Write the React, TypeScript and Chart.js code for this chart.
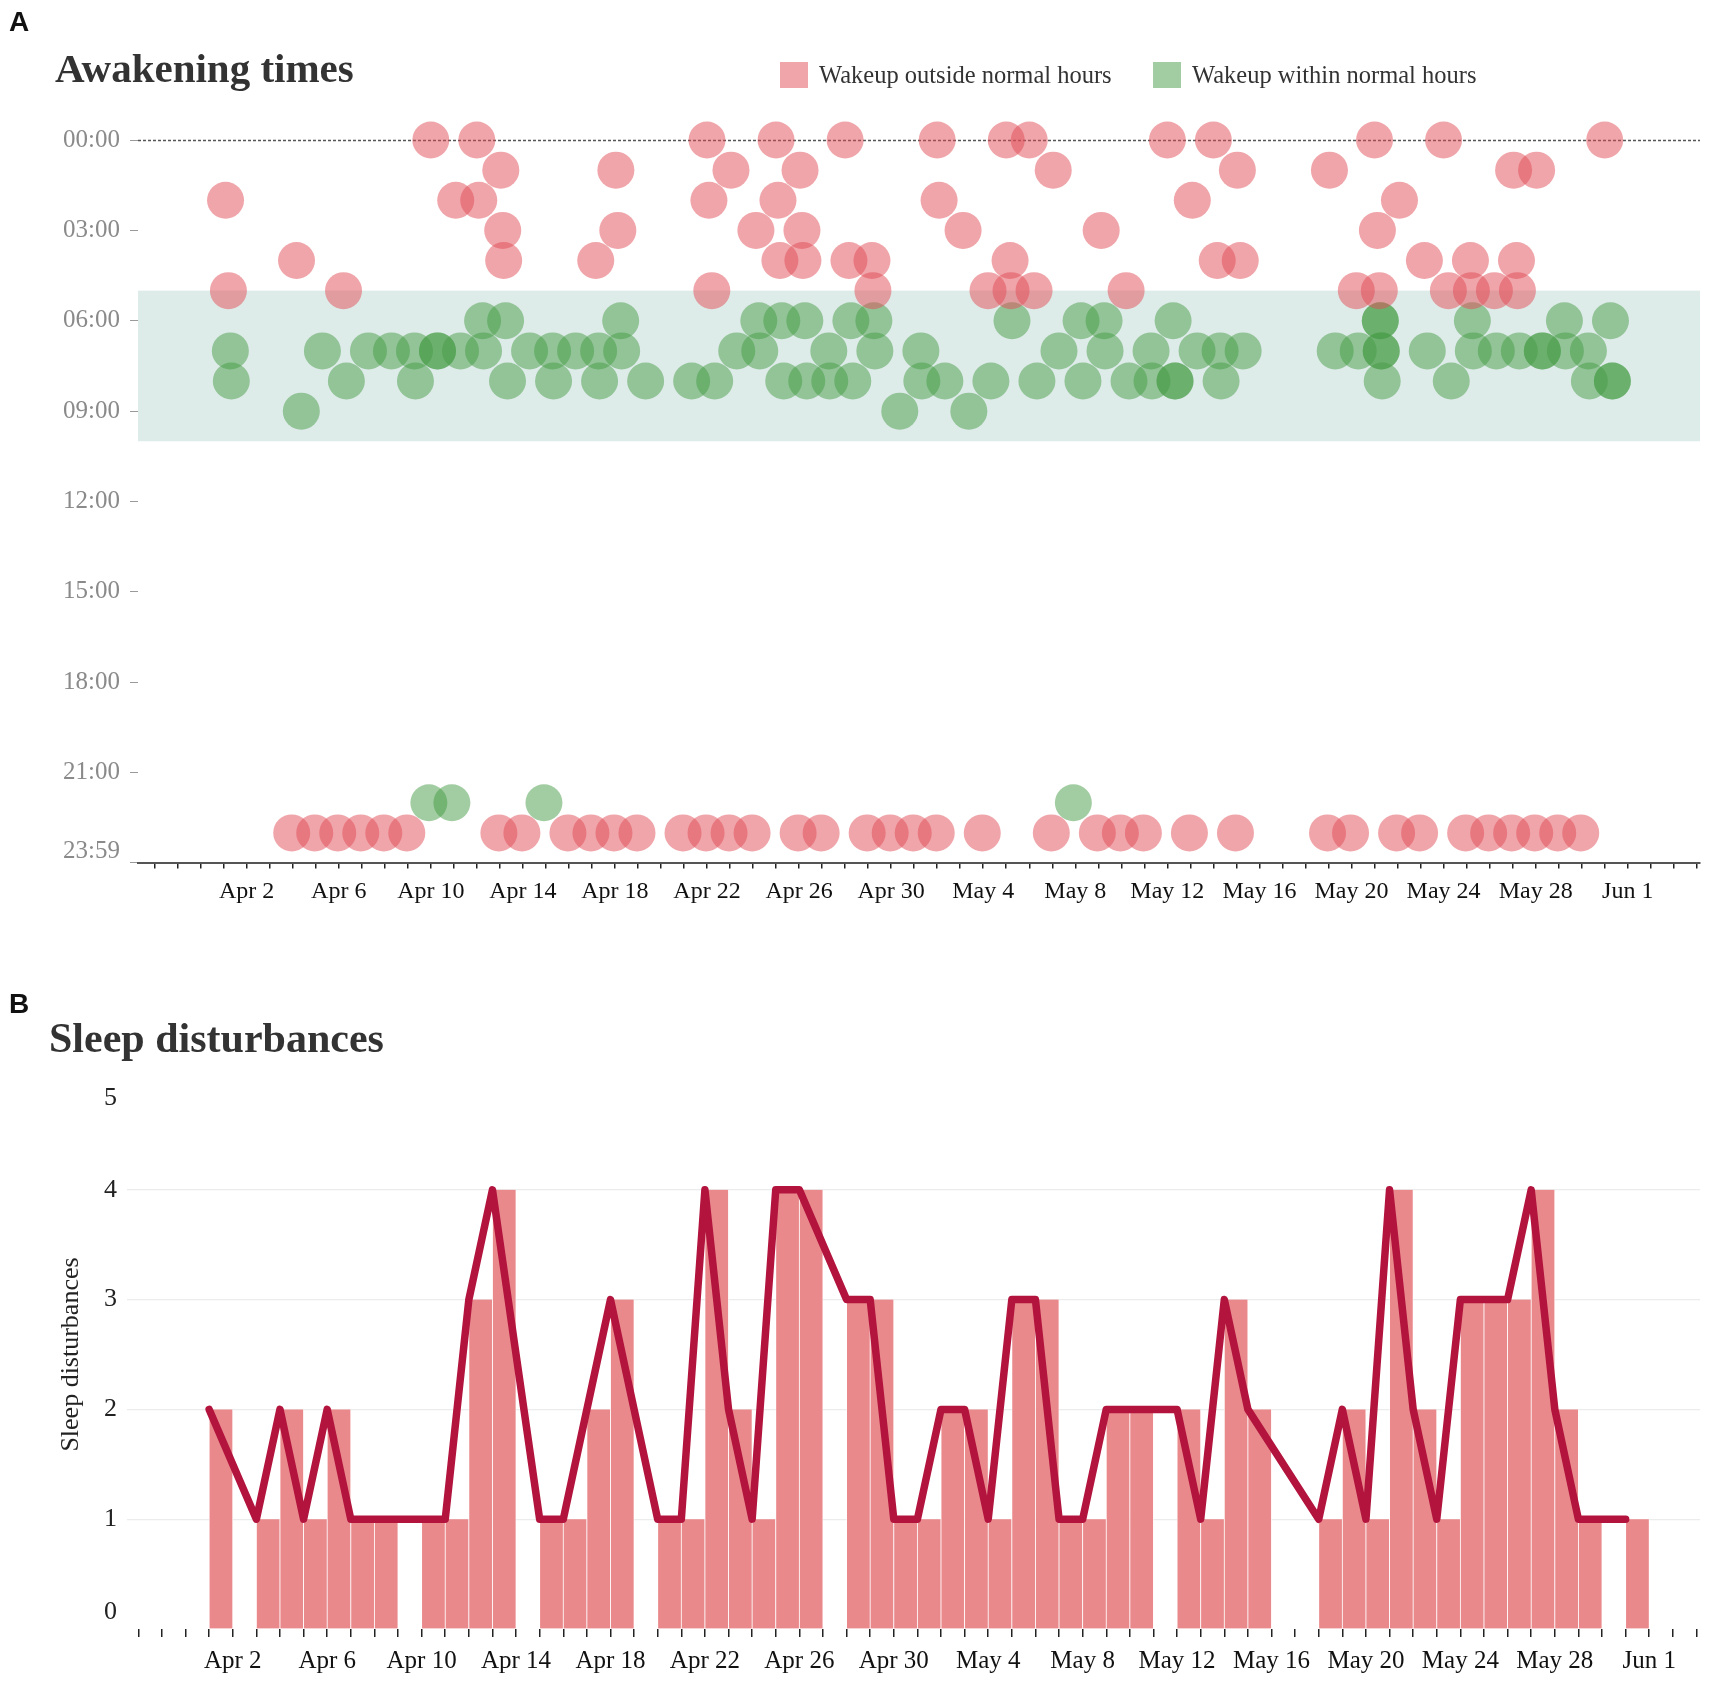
import React, { useEffect, useRef } from "react";
import { Chart, registerables } from "chart.js";

Chart.register(...registerables);

const SERIF = "'Liberation Serif', 'Times New Roman', Times, serif";
const SANS = "'Liberation Sans', Arial, Helvetica, sans-serif";

// ---------------- Panel A: awakening times (dates "M/D", grouped by wake-up hour) ----------------
const OUTSIDE_00 = ["4/10", "4/12", "4/22", "4/25", "4/28", "5/2", "5/5", "5/6", "5/12", "5/14", "5/21", "5/24", "5/31"];
const OUTSIDE_01 = ["4/13", "4/18", "4/23", "4/26", "5/7", "5/15", "5/19", "5/27", "5/28"];
const OUTSIDE_02 = ["4/1", "4/11", "4/12", "4/22", "4/25", "5/2", "5/13", "5/22"];
const OUTSIDE_03 = ["4/13", "4/18", "4/24", "4/26", "5/3", "5/9", "5/21"];
const OUTSIDE_04 = ["4/4", "4/13", "4/17", "4/25", "4/26", "4/28", "4/29", "5/5", "5/14", "5/15", "5/23", "5/25", "5/27"];
const OUTSIDE_05 = ["4/1", "4/6", "4/22", "4/29", "5/4", "5/5", "5/6", "5/10", "5/20", "5/21", "5/24", "5/25", "5/26", "5/27"];
const OUTSIDE_23 = [
  "4/3", "4/4", "4/5", "4/6", "4/7", "4/8", "4/12", "4/13", "4/15", "4/16", "4/17", "4/18", "4/20", "4/21",
  "4/22", "4/23", "4/25", "4/26", "4/28", "4/29", "4/30", "5/1", "5/3", "5/6", "5/8", "5/9", "5/10", "5/12",
  "5/14", "5/18", "5/19", "5/21", "5/22", "5/24", "5/25", "5/26", "5/27", "5/28", "5/29",
];
const OUTSIDE_HOURS = [0, 1, 2, 3, 4, 5, 23];
const OUTSIDE_DATES = [OUTSIDE_00, OUTSIDE_01, OUTSIDE_02, OUTSIDE_03, OUTSIDE_04, OUTSIDE_05, OUTSIDE_23];

const WITHIN_06 = ["4/12", "4/13", "4/18", "4/24", "4/25", "4/26", "4/28", "4/29", "5/5", "5/8", "5/9", "5/12", "5/21", "5/21", "5/25", "5/29", "5/31"];
const WITHIN_07 = [
  "4/1", "4/5", "4/7", "4/8", "4/9", "4/10", "4/10", "4/11", "4/12", "4/14", "4/15", "4/16", "4/17", "4/18",
  "4/23", "4/24", "4/27", "4/29", "5/1", "5/7", "5/9", "5/11", "5/13", "5/14", "5/15", "5/19", "5/20", "5/21",
  "5/21", "5/23", "5/25", "5/26", "5/27", "5/28", "5/28", "5/29", "5/30",
];
const WITHIN_08 = [
  "4/1", "4/6", "4/9", "4/13", "4/15", "4/17", "4/19", "4/21", "4/22", "4/25", "4/26", "4/27", "4/28", "5/1",
  "5/2", "5/4", "5/6", "5/8", "5/10", "5/11", "5/12", "5/12", "5/14", "5/21", "5/24", "5/30", "5/31", "5/31",
];
const WITHIN_09 = ["4/4", "4/30", "5/3"];
const WITHIN_22 = ["4/9", "4/10", "4/14", "5/7"];
const WITHIN_HOURS = [6, 7, 8, 9, 22];
const WITHIN_DATES = [WITHIN_06, WITHIN_07, WITHIN_08, WITHIN_09, WITHIN_22];

const TIME_TICKS = [0, 3, 6, 9, 12, 15, 18, 21, 23 + 59 / 60];
const NORMAL_FROM = 5;
const NORMAL_TO = 10;

// ---------------- Panel B: sleep disturbances per day ----------------
const DISTURBANCE_DATES = [
  "4/1", "4/3", "4/4", "4/5", "4/6", "4/7", "4/8", "4/10", "4/11", "4/12", "4/13", "4/15", "4/16", "4/17",
  "4/18", "4/20", "4/21", "4/22", "4/23", "4/24", "4/25", "4/26", "4/28", "4/29", "4/30", "5/1", "5/2", "5/3",
  "5/4", "5/5", "5/6", "5/7", "5/8", "5/9", "5/10", "5/12", "5/13", "5/14", "5/15", "5/18", "5/19", "5/20",
  "5/21", "5/22", "5/23", "5/24", "5/25", "5/26", "5/27", "5/28", "5/29", "5/31",
];
const DISTURBANCE_COUNTS = [
  2, 1, 2, 1, 2, 1, 1, 1, 1, 3, 4, 1, 1, 2,
  3, 1, 1, 4, 2, 1, 4, 4, 3, 3, 1, 1, 2, 2,
  1, 3, 3, 1, 1, 2, 2, 2, 1, 3, 2, 1, 2, 1,
  4, 2, 1, 3, 3, 3, 4, 2, 1, 1,
];
const COUNT_TICKS = [0, 1, 2, 3, 4, 5];

// axis ranges in days (day 1 = Apr 1)
const A_X_MIN = -2.72;
const A_X_MAX = 65.14;
const B_X_MIN = -2.48;
const B_X_MAX = 64.15;
const LABEL_FROM = "4/2";
const LABEL_EVERY = 4;

// ---------------- colours ----------------
const RED = "rgba(225, 75, 85, 0.5)";
const GREEN = "rgba(70, 155, 70, 0.5)";
const BAND = "#deece9";
const LINE_COLOR = "#b2143e";
const BAR_COLOR = "#ea898c";

// ---------------- helpers ----------------
const DAY_MS = 86400000;
const BASE = Date.UTC(2000, 3, 0); // Mar 31 -> day 0
const MONTHS = ["Jan", "Feb", "Mar", "Apr", "May", "Jun", "Jul", "Aug", "Sep", "Oct", "Nov", "Dec"];

function dayIndex(md: string): number {
  const [m, d] = md.split("/").map(Number);
  return Math.round((Date.UTC(2000, m - 1, d) - BASE) / DAY_MS);
}
function dayLabel(v: number): string {
  const dt = new Date(BASE + v * DAY_MS);
  return `${MONTHS[dt.getUTCMonth()]} ${dt.getUTCDate()}`;
}
function hhmm(h: number): string {
  const m = Math.round(h * 60);
  const p = (n: number) => String(n).padStart(2, "0");
  return `${p(Math.floor(m / 60))}:${p(m % 60)}`;
}
const LABEL_START = dayIndex(LABEL_FROM);
function dayTickLabel(value: any): string {
  const n = Number(value);
  return n >= LABEL_START && (n - LABEL_START) % LABEL_EVERY === 0 ? dayLabel(n) : "";
}
function dayTicks(scale: any) {
  const t: any[] = [];
  for (let v = Math.ceil(scale.min); v <= Math.floor(scale.max); v++) t.push({ value: v });
  scale.ticks = t;
}
// wake-up timestamp: x = date + hour of day, y = hour of day
function wakePoints(hours: number[], dates: string[][]) {
  const pts: { x: number; y: number }[] = [];
  hours.forEach((h, i) => dates[i].forEach((md) => pts.push({ x: dayIndex(md) + h / 24, y: h })));
  return pts;
}

function bandPlugin() {
  return {
    id: "normalBand",
    beforeDatasetsDraw(chart: any) {
      const { ctx, chartArea: a, scales } = chart;
      const y = scales.y;
      const y1 = y.getPixelForValue(NORMAL_FROM);
      const y2 = y.getPixelForValue(NORMAL_TO);
      ctx.save();
      ctx.fillStyle = BAND;
      ctx.fillRect(a.left, Math.min(y1, y2), a.right - a.left, Math.abs(y2 - y1));
      const y0 = Math.round(y.getPixelForValue(0)) + 0.5;
      ctx.strokeStyle = "#555";
      ctx.lineWidth = 1.3;
      ctx.setLineDash([3, 2]);
      ctx.beginPath();
      ctx.moveTo(a.left, y0);
      ctx.lineTo(a.right, y0);
      ctx.stroke();
      ctx.restore();
    },
  };
}

function yLabelPlugin(o: {
  font: string;
  color: string;
  gap: number;
  insetTop: number;
  insetBottom: number;
  format: (v: number) => string;
}) {
  return {
    id: "yLabels",
    afterDraw(chart: any) {
      const s = chart.scales.y;
      const ctx = chart.ctx;
      ctx.save();
      ctx.font = o.font;
      ctx.fillStyle = o.color;
      ctx.textAlign = "right";
      ctx.textBaseline = "middle";
      for (const t of s.ticks) {
        let py = s.getPixelForValue(t.value);
        py = Math.max(py, s.top + o.insetTop);
        py = Math.min(py, s.bottom - o.insetBottom);
        ctx.fillText(o.format(t.value), s.right - o.gap, py);
      }
      ctx.restore();
    },
  };
}

function configA(): any {
  return {
    type: "scatter",
    data: {
      datasets: [
        {
          label: "Wakeup outside normal hours",
          data: wakePoints(OUTSIDE_HOURS, OUTSIDE_DATES),
          pointRadius: 18.5,
          pointHoverRadius: 18.5,
          pointBorderWidth: 0,
          pointBackgroundColor: RED,
          backgroundColor: RED,
          borderColor: "rgba(0,0,0,0)",
          clip: false,
        },
        {
          label: "Wakeup within normal hours",
          data: wakePoints(WITHIN_HOURS, WITHIN_DATES),
          pointRadius: 18.5,
          pointHoverRadius: 18.5,
          pointBorderWidth: 0,
          pointBackgroundColor: GREEN,
          backgroundColor: GREEN,
          borderColor: "rgba(0,0,0,0)",
          clip: false,
        },
      ],
    },
    options: {
      responsive: false,
      maintainAspectRatio: false,
      animation: false,
      events: [],
      layout: { autoPadding: false, padding: { left: 0, right: 13, top: 140, bottom: 7.5 } },
      plugins: { legend: { display: false }, tooltip: { enabled: false } },
      scales: {
        x: {
          type: "linear",
          min: A_X_MIN,
          max: A_X_MAX,
          afterBuildTicks: dayTicks,
          afterFit: (s: any) => {
            s.height = 60;
          },
          grid: { drawOnChartArea: false, drawTicks: true, tickLength: 6, color: "#222", lineWidth: 1.5 },
          border: { display: true, color: "#555", width: 2 },
          ticks: {
            autoSkip: false,
            maxRotation: 0,
            minRotation: 0,
            padding: 9,
            color: "#111",
            font: { family: SERIF, size: 24 },
            callback: dayTickLabel,
          },
        },
        y: {
          type: "linear",
          reverse: true,
          min: 0,
          max: TIME_TICKS[TIME_TICKS.length - 1],
          afterBuildTicks: (s: any) => {
            s.ticks = TIME_TICKS.map((v) => ({ value: v }));
          },
          afterFit: (s: any) => {
            s.width = 138;
          },
          grid: { drawOnChartArea: false, drawTicks: true, tickLength: 8, color: "#9a9a9a", lineWidth: 1 },
          border: { display: false },
          ticks: { display: false },
        },
      },
    },
    plugins: [
      bandPlugin(),
      yLabelPlugin({
        font: `25px ${SERIF}`,
        color: "#8a8a8a",
        gap: 18,
        insetTop: 0,
        insetBottom: 11,
        format: hhmm,
      }),
    ],
  };
}

function configB(): any {
  return {
    type: "bar",
    data: {
      datasets: [
        {
          type: "line",
          label: "Sleep disturbances",
          data: DISTURBANCE_DATES.map((d, i) => ({ x: dayIndex(d), y: DISTURBANCE_COUNTS[i] })),
          borderColor: LINE_COLOR,
          borderWidth: 7.5,
          pointRadius: 0,
          pointHoverRadius: 0,
          tension: 0,
          borderJoinStyle: "round",
          borderCapStyle: "round",
          fill: false,
          spanGaps: true,
          order: 0,
        },
        {
          type: "bar",
          label: "Sleep disturbances",
          // each bar covers its whole day: from the date to the next date
          data: DISTURBANCE_DATES.map((d, i) => ({ x: dayIndex(d) + 0.5, y: DISTURBANCE_COUNTS[i] })),
          backgroundColor: BAR_COLOR,
          borderColor: "rgba(255,255,255,0.9)",
          borderWidth: { left: 0.75, right: 0.75, top: 0, bottom: 0 },
          borderSkipped: false,
          barPercentage: 1,
          categoryPercentage: 1,
          order: 1,
        },
      ],
    },
    options: {
      responsive: false,
      maintainAspectRatio: false,
      animation: false,
      events: [],
      layout: { autoPadding: false, padding: { left: 0, right: 13, top: 140, bottom: 6 } },
      plugins: { legend: { display: false }, tooltip: { enabled: false } },
      scales: {
        x: {
          type: "linear",
          offset: false,
          min: B_X_MIN,
          max: B_X_MAX,
          afterBuildTicks: dayTicks,
          afterFit: (s: any) => {
            s.height = 55;
          },
          grid: { offset: false, drawOnChartArea: false, drawTicks: true, tickLength: 8, color: "#222", lineWidth: 1.5 },
          border: { display: false },
          ticks: {
            autoSkip: false,
            maxRotation: 0,
            minRotation: 0,
            padding: 9,
            color: "#111",
            font: { family: SERIF, size: 25 },
            callback: dayTickLabel,
          },
        },
        y: {
          type: "linear",
          min: 0,
          max: 5,
          afterBuildTicks: (s: any) => {
            s.ticks = COUNT_TICKS.map((v) => ({ value: v }));
          },
          afterFit: (s: any) => {
            s.width = 127;
          },
          grid: {
            drawTicks: false,
            lineWidth: 1.2,
            color: (ctx: any) =>
              ctx.tick && ctx.tick.value > 0 && ctx.tick.value < 5 ? "#ececec" : "rgba(0,0,0,0)",
          },
          border: { display: false },
          ticks: { display: false },
          title: {
            display: true,
            text: "Sleep disturbances",
            color: "#222",
            font: { family: SERIF, size: 26 },
            padding: { top: 56, bottom: 0 },
          },
        },
      },
    },
    plugins: [
      yLabelPlugin({
        font: `26px ${SERIF}`,
        color: "#222",
        gap: 10,
        insetTop: 18,
        insetBottom: 17,
        format: (v) => String(v),
      }),
    ],
  };
}

export default function App() {
  const refA = useRef<HTMLCanvasElement>(null);
  const refB = useRef<HTMLCanvasElement>(null);

  useEffect(() => {
    const a = new Chart(refA.current as HTMLCanvasElement, configA());
    const b = new Chart(refB.current as HTMLCanvasElement, configB());
    return () => {
      a.destroy();
      b.destroy();
    };
  }, []);

  const panelLetter: React.CSSProperties = {
    position: "absolute",
    left: 9,
    font: `bold 28px ${SANS}`,
    lineHeight: "28px",
    color: "#111",
    margin: 0,
  };
  const title: React.CSSProperties = {
    position: "absolute",
    fontFamily: SERIF,
    fontWeight: "bold",
    color: "#333",
    whiteSpace: "nowrap",
    margin: 0,
  };
  const legendItem: React.CSSProperties = {
    position: "absolute",
    top: 62,
    height: 26,
    display: "flex",
    alignItems: "center",
    font: `24.5px ${SERIF}`,
    color: "#333",
    whiteSpace: "nowrap",
  };
  const box = (c: string): React.CSSProperties => ({
    width: 28,
    height: 26,
    background: c,
    marginRight: 11,
    flex: "0 0 auto",
  });

  return (
    <div
      style={{
        position: "absolute",
        left: 0,
        top: 0,
        width: 1713,
        height: 1690,
        background: "#fff",
        overflow: "hidden",
      }}
    >
      <canvas
        ref={refA}
        width={1713}
        height={930}
        style={{ position: "absolute", left: 0, top: 0, width: 1713, height: 930 }}
      />
      <canvas
        ref={refB}
        width={1713}
        height={750}
        style={{ position: "absolute", left: 0, top: 940, width: 1713, height: 750 }}
      />

      <div style={{ ...panelLetter, top: 8 }}>A</div>
      <div style={{ ...title, left: 55, top: 48, fontSize: 41, lineHeight: "41px" }}>Awakening times</div>
      <div style={{ ...legendItem, left: 780 }}>
        <span style={box(RED)} />
        <span>Wakeup outside normal hours</span>
      </div>
      <div style={{ ...legendItem, left: 1153 }}>
        <span style={box(GREEN)} />
        <span>Wakeup within normal hours</span>
      </div>

      <div style={{ ...panelLetter, top: 990 }}>B</div>
      <div style={{ ...title, left: 49, top: 1017, fontSize: 42, lineHeight: "42px" }}>Sleep disturbances</div>
    </div>
  );
}
